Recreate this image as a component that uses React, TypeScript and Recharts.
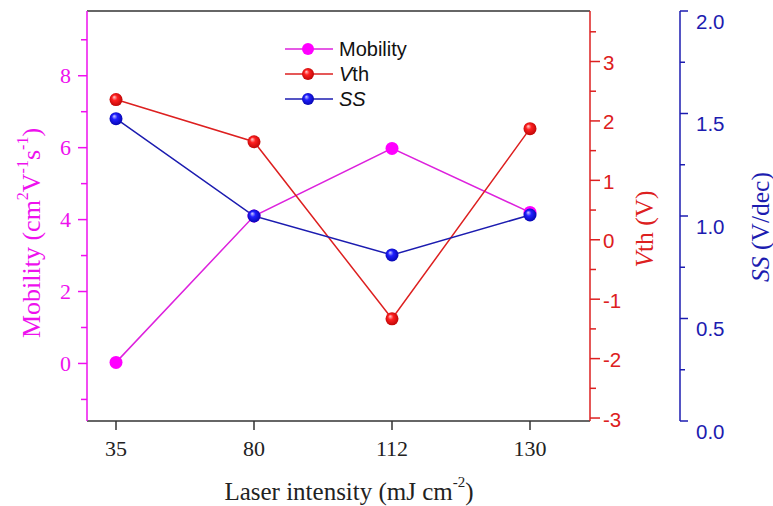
import React from "react"
import { LineChart, Line, XAxis, YAxis, ReferenceLine } from "recharts"

const intensity = ["35", "80", "112", "130"]
const mobility = [0.03, 4.1, 5.98, 4.2]
const vth = [2.36, 1.65, -1.33, 1.87]
const ss = [1.475, 1.0, 0.81, 1.005]

const mobilityTicks = [-1, 0, 1, 2, 3, 4, 5, 6, 7, 8, 9]
const vthTicks = [-3, -2.5, -2, -1.5, -1, -0.5, 0, 0.5, 1, 1.5, 2, 2.5, 3, 3.5]
const ssTicks = [0, 0.25, 0.5, 0.75, 1, 1.25, 1.5, 1.75, 2]

const data = intensity.map((x, i) => ({
  intensity: x,
  mobility: mobility[i],
  vth: vth[i],
  ss: ss[i],
}))

const MAGENTA = "#ee11ee"
const RED = "#dd2020"
const BLUE = "#1c1cb0"
const SERIF = "'Liberation Serif', 'Times New Roman', serif"
const SANS = "'Liberation Sans', Arial, sans-serif"
const MOB_MAX = 9.8

// sphere-like marker
function Ball({ cx, cy, kind, r = 6.5 }: any) {
  if (cx == null || cy == null) return null
  if (kind === "flat") {
    return <circle cx={cx} cy={cy} r={r} fill="#ff00ff" />
  }
  const id = `grad-${kind}-${Math.round(cx)}-${Math.round(cy)}`
  const c = kind === "red" ? ["#ffd0d0", "#ff2020", "#b00000"] : ["#d0d0ff", "#2020ff", "#0000a0"]
  return (
    <g>
      <defs>
        <radialGradient id={id} cx="50%" cy="50%" fx="35%" fy="30%" r="60%">
          <stop offset="0%" stopColor={c[0]} />
          <stop offset="35%" stopColor={c[1]} />
          <stop offset="100%" stopColor={c[2]} />
        </radialGradient>
      </defs>
      <circle cx={cx} cy={cy} r={r} fill={`url(#${id})`} />
    </g>
  )
}

function LeftTick({ x, y, payload }: any) {
  const v = payload.value
  const major = v % 2 === 0
  return (
    <g>
      <line x1={x - (major ? 9 : 6)} x2={x} y1={y} y2={y} stroke={MAGENTA} strokeWidth={1.5} />
      {major && (
        <text x={x - 16} y={y} textAnchor="end" dominantBaseline="central" fontFamily={SERIF} fontSize={22} fill={MAGENTA}>
          {v}
        </text>
      )}
    </g>
  )
}

function RedTick({ x, y, payload }: any) {
  const v = payload.value
  const major = Number.isInteger(v)
  return (
    <g>
      <line x1={x} x2={x + (major ? 10 : 6)} y1={y} y2={y} stroke={RED} strokeWidth={1.5} />
      {major && (
        <text x={x + 13} y={y + 1} textAnchor="start" dominantBaseline="central" fontFamily={SANS} fontSize={20.5} fill={RED}>
          {v}
        </text>
      )}
    </g>
  )
}

function BlueTick({ x, y, payload }: any) {
  const v = payload.value
  const major = Math.abs(v * 2 - Math.round(v * 2)) < 1e-6
  return (
    <g>
      <line x1={x} x2={x + (major ? 8 : 5)} y1={y} y2={y} stroke={BLUE} strokeWidth={1.5} />
      {major && (
        <text x={x + 16} y={y + 10} textAnchor="start" dominantBaseline="central" fontFamily={SANS} fontSize={20.5} fill={BLUE}>
          {v.toFixed(1)}
        </text>
      )}
    </g>
  )
}

function BottomTick({ x, y, payload }: any) {
  return (
    <g>
      <line x1={x} x2={x} y1={y} y2={y + 9} stroke="#333" strokeWidth={1.5} />
      <text x={x} y={y + 27} textAnchor="middle" dominantBaseline="central" fontFamily={SERIF} fontSize={22} fill="#222">
        {payload.value}
      </text>
    </g>
  )
}

const legendItems = [
  { key: "mobility", color: "#dd22dd", kind: "flat", label: <tspan>Mobility</tspan> },
  { key: "vth", color: RED, kind: "red", label: <><tspan fontStyle="italic">V</tspan><tspan>th</tspan></> },
  { key: "ss", color: BLUE, kind: "blue", label: <tspan fontStyle="italic">SS</tspan> },
]

function LegendBox() {
  return (
    <svg width={170} height={80} style={{ position: "absolute", left: 285, top: 36 }}>
      {legendItems.map((it, i) => {
        const cy = 13 + i * 25
        return (
          <g key={it.key}>
            <line x1={0} x2={48} y1={cy} y2={cy} stroke={it.color} strokeWidth={1.5} />
            <Ball cx={23} cy={cy} kind={it.kind} r={6} />
            <text x={54} y={cy} dominantBaseline="central" fontFamily={SANS} fontSize={20} fill="#111">
              {it.label}
            </text>
          </g>
        )
      })}
    </svg>
  )
}

export default function App() {
  return (
    <div style={{ position: "absolute", left: 0, top: 0, width: 773, height: 506, background: "#fff" }}>
      <LineChart width={773} height={506} data={data} margin={{ top: 11, right: 0, left: 0, bottom: 0 }}>
        <XAxis
          dataKey="intensity"
          padding={{ left: 29, right: 60 }}
          height={85}
          axisLine={{ stroke: "#333", strokeWidth: 1.5 }}
          tickLine={false}
          tickSize={0}
          tickMargin={0}
          tick={<BottomTick />}
          interval={0}
          label={({ viewBox }: any) => (
            <text x={349} y={viewBox.y + 70} textAnchor="middle" dominantBaseline="central" fontFamily={SERIF} fontSize={25} fill="#222">
              Laser intensity (mJ cm<tspan dy={-9} fontSize={15}>-2</tspan><tspan dy={9}>)</tspan>
            </text>
          )}
        />
        <YAxis
          yAxisId="mob"
          width={87}
          domain={[-1.6, MOB_MAX]}
          ticks={mobilityTicks}
          interval={0}
          allowDataOverflow
          axisLine={{ stroke: MAGENTA, strokeWidth: 1.5 }}
          tickLine={false}
          tickSize={0}
          tickMargin={0}
          tick={<LeftTick />}
          label={() => (
            <text x={31} y={233} transform="rotate(-90 31 233)" textAnchor="middle" dominantBaseline="central" fontFamily={SERIF} fontSize={26} fill={MAGENTA}>
              Mobility (cm<tspan dy={-9} fontSize={16}>2</tspan><tspan dy={9}>V</tspan><tspan dy={-9} fontSize={16}>-1</tspan><tspan dy={9}>s</tspan><tspan dy={-9} fontSize={16}>-1</tspan><tspan dy={9}>)</tspan>
            </text>
          )}
        />
        <YAxis
          yAxisId="r1vth"
          orientation="right"
          width={90}
          domain={[-3.05, 3.85]}
          ticks={vthTicks}
          interval={0}
          allowDataOverflow
          axisLine={{ stroke: RED, strokeWidth: 1.5 }}
          tickLine={false}
          tickSize={0}
          tickMargin={0}
          tick={<RedTick />}
          label={() => (
            <text x={644} y={229} transform="rotate(-90 644 229)" textAnchor="middle" dominantBaseline="central" fontFamily={SERIF} fontSize={25.5} fill={RED}>
              <tspan fontStyle="italic">V</tspan>th (V)
            </text>
          )}
        />
        <YAxis
          yAxisId="r2ss"
          orientation="right"
          width={93}
          domain={[0, 2]}
          ticks={ssTicks}
          interval={0}
          allowDataOverflow
          axisLine={{ stroke: BLUE, strokeWidth: 1.5 }}
          tickLine={false}
          tickSize={0}
          tickMargin={0}
          tick={<BlueTick />}
          label={() => (
            <text x={760} y={227} transform="rotate(-90 760 227)" textAnchor="middle" dominantBaseline="central" fontFamily={SERIF} fontSize={25.5} fill={BLUE}>
              <tspan fontStyle="italic">SS</tspan> (V/dec)
            </text>
          )}
        />
        <ReferenceLine yAxisId="mob" y={MOB_MAX} stroke="#333" strokeWidth={1.5} ifOverflow="visible" />
        <Line yAxisId="mob" dataKey="mobility" stroke="#dd22dd" strokeWidth={1.5} isAnimationActive={false}
          dot={(p: any) => <Ball key={`m${p.index}`} cx={p.cx} cy={p.cy} kind="flat" />} />
        <Line yAxisId="r1vth" dataKey="vth" stroke={RED} strokeWidth={1.5} isAnimationActive={false}
          dot={(p: any) => <Ball key={`v${p.index}`} cx={p.cx} cy={p.cy} kind="red" />} />
        <Line yAxisId="r2ss" dataKey="ss" stroke={BLUE} strokeWidth={1.5} isAnimationActive={false}
          dot={(p: any) => <Ball key={`s${p.index}`} cx={p.cx} cy={p.cy} kind="blue" />} />
      </LineChart>
      <LegendBox />
    </div>
  )
}
